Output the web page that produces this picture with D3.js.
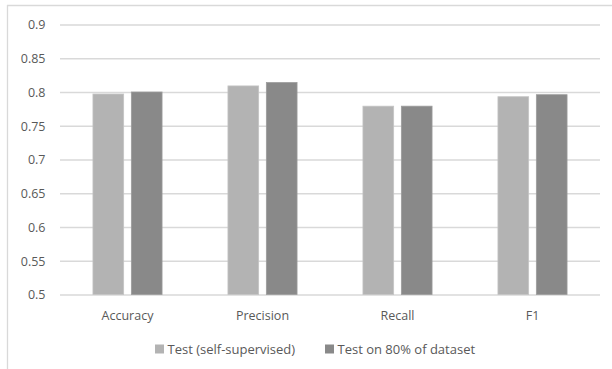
<!DOCTYPE html>
<html>
<head>
<meta charset="utf-8">
<script src="https://cdn.jsdelivr.net/npm/d3@7"></script>
<style>
  body { margin: 0; background: #fff; }
  svg { display: block; }
  text { font-family: "Open Sans", sans-serif; fill: #595959; }
</style>
</head>
<body>
<svg id="chart" width="612" height="369"></svg>
<script>
const categories = ["Accuracy", "Precision", "Recall", "F1"];
const seriesNames = ["Test (self-supervised)", "Test on 80% of dataset"];
const selfSupervised = [0.797, 0.809, 0.779, 0.793];
const test80 = [0.800, 0.814, 0.779, 0.796];
const yTicks = [0.5, 0.55, 0.6, 0.65, 0.7, 0.75, 0.8, 0.85, 0.9];
const colors = ["#b3b3b3", "#898989"];

const svg = d3.select("#chart");
const W = 612, H = 369;
const margin = { left: 60, right: 12, top: 24.5, bottom: 74.5 };

// outer border (top and left only visible)
svg.append("line").attr("x1", 7).attr("x2", W).attr("y1", 5.5).attr("y2", 5.5)
  .attr("stroke", "#d9d9d9").attr("stroke-width", 1.3);
svg.append("line").attr("x1", 7.5).attr("x2", 7.5).attr("y1", 5).attr("y2", H)
  .attr("stroke", "#d9d9d9").attr("stroke-width", 1.3);

const x = d3.scaleBand().domain(categories).range([margin.left, W - margin.right]).paddingInner(0).paddingOuter(0);
const y = d3.scaleLinear().domain([0.5, 0.9]).range([H - margin.bottom, margin.top]);

// gridlines
const yAxis = d3.axisLeft(y).tickValues(yTicks).tickSize(-(W - margin.left - margin.right))
  .tickFormat(d => d3.format("")(+d.toFixed(2)));
const gy = svg.append("g").attr("transform", `translate(${margin.left},0)`).call(yAxis);
gy.select(".domain").remove();
gy.selectAll(".tick line").attr("stroke", "#d9d9d9").attr("stroke-width", 1.3);
gy.selectAll(".tick text").attr("x", -14.5).attr("dy", "0.35em")
  .style("font-size", "12.5px").style("font-family", "'Open Sans', sans-serif").attr("fill", "#595959");

// bars
const barW = 30.7, barGap = 7.7;
const data = [selfSupervised, test80];
data.forEach((vals, si) => {
  svg.append("g").selectAll("rect").data(categories).join("rect")
    .attr("x", d => x(d) + x.bandwidth() / 2 + (si === 0 ? -(barW + barGap / 2) : barGap / 2))
    .attr("y", (d, i) => y(vals[i]))
    .attr("width", barW)
    .attr("height", (d, i) => y(0.5) - y(vals[i]))
    .attr("fill", colors[si])
    .attr("stroke", si === 0 ? "#c4c4c4" : "#9c9c9c")
    .attr("stroke-width", 0.8);
});

// category labels
svg.append("g").selectAll("text").data(categories).join("text")
  .attr("x", d => x(d) + x.bandwidth() / 2)
  .attr("y", 319.5)
  .attr("text-anchor", "middle")
  .style("font-size", "12.5px")
  .text(d => d);

// legend
const legendX = [155, 325];
const lg = svg.append("g");
seriesNames.forEach((name, i) => {
  lg.append("rect").attr("x", legendX[i]).attr("y", 344.5).attr("width", 9).attr("height", 9).attr("fill", colors[i]);
  lg.append("text").attr("x", legendX[i] + 12.5).attr("y", 354).style("font-size", "13px").text(name);
});
</script>
</body>
</html>
